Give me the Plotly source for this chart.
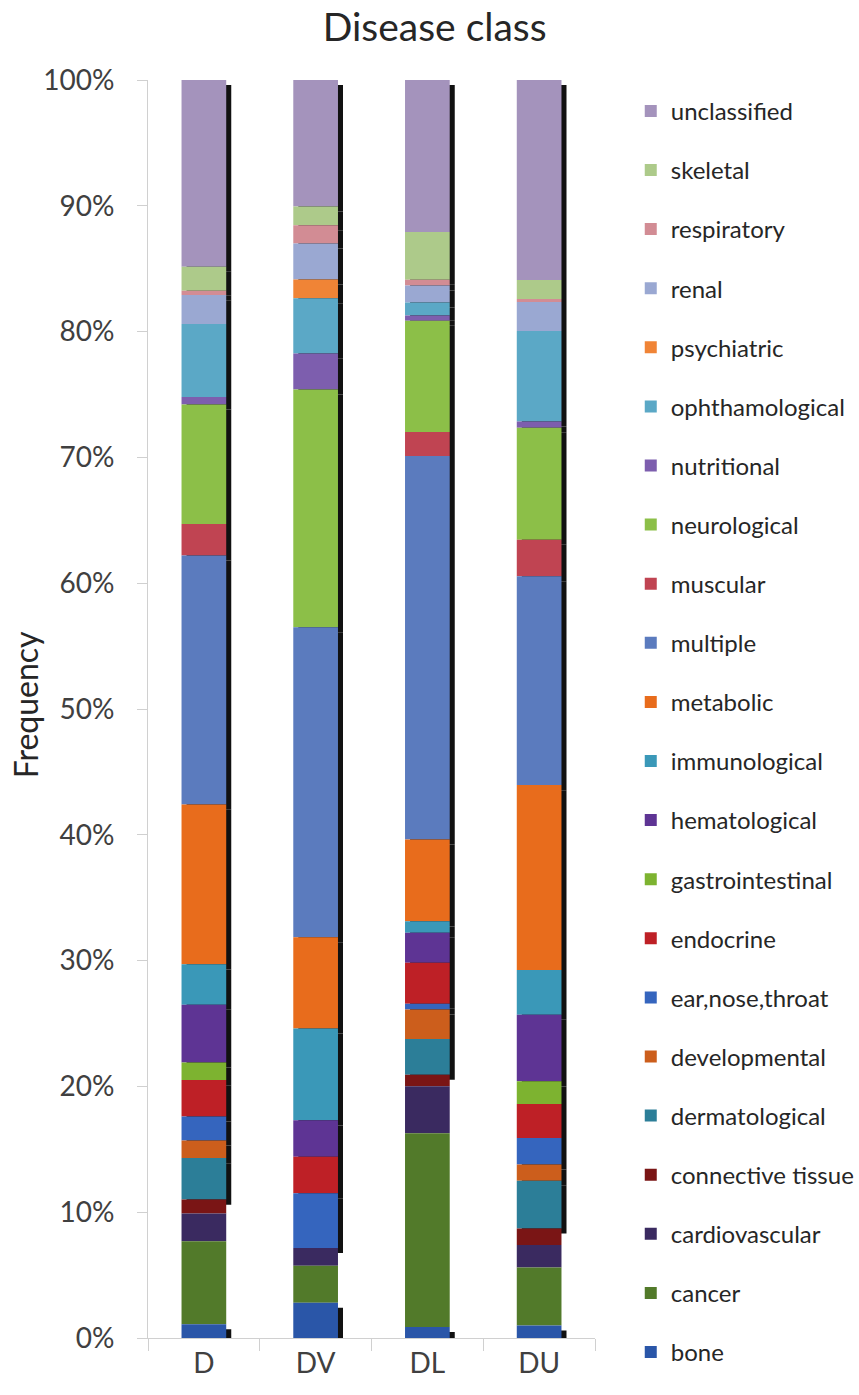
import plotly.graph_objects as go

categories = ["D", "DV", "DL", "DU"]

series_names = [
    "bone", "cancer", "cardiovascular", "connective tissue", "dermatological",
    "developmental", "ear,nose,throat", "endocrine", "gastrointestinal",
    "hematological", "immunological", "metabolic", "multiple", "muscular",
    "neurological", "nutritional", "ophthamological", "psychiatric", "renal",
    "respiratory", "skeletal", "unclassified",
]

# percentage of each disease class per group (D, DV, DL, DU)
bone              = [1.1, 2.8, 0.87, 1.0]
cancer            = [6.6, 2.95, 15.4, 4.6]
cardiovascular    = [2.2, 1.4, 3.75, 1.8]
connective_tissue = [1.1, 0.0, 0.9, 1.3]
dermatological    = [3.3, 0.0, 2.85, 3.8]
developmental     = [1.4, 0.0, 2.35, 1.3]
ear_nose_throat   = [1.9, 4.35, 0.45, 2.1]
endocrine         = [2.9, 2.9, 3.25, 2.7]
gastrointestinal  = [1.4, 0.0, 0.0, 1.8]
hematological     = [4.6, 2.9, 2.4, 5.3]
immunological     = [3.2, 7.3, 0.9, 3.55]
metabolic         = [12.7, 7.25, 6.5, 14.7]
multiple          = [19.8, 24.65, 30.5, 16.6]
muscular          = [2.5, 0.0, 1.9, 2.9]
neurological      = [9.5, 18.9, 8.85, 8.9]
nutritional       = [0.6, 2.85, 0.4, 0.5]
ophthamological   = [5.8, 4.4, 1.05, 7.2]
psychiatric       = [0.0, 1.5, 0.0, 0.0]
renal             = [2.3, 2.85, 1.35, 2.3]
respiratory       = [0.35, 1.45, 0.45, 0.25]
skeletal          = [1.9, 1.5, 3.8, 1.5]
unclassified      = [14.85, 10.05, 12.08, 15.9]

series_values = [
    bone, cancer, cardiovascular, connective_tissue, dermatological,
    developmental, ear_nose_throat, endocrine, gastrointestinal,
    hematological, immunological, metabolic, multiple, muscular,
    neurological, nutritional, ophthamological, psychiatric, renal,
    respiratory, skeletal, unclassified,
]

y_ticks = list(range(0, 101, 10))
y_tick_labels = [f"{t}%" for t in y_ticks]

colors = [
    "#2A56A8", "#527A2A", "#3A2A60", "#7A1515", "#2C7E98",
    "#CC5E1C", "#3565BE", "#BE2026", "#7DB330", "#5E3494",
    "#3A98B8", "#E86C1C", "#5B7BBE", "#C04452", "#8CBF48",
    "#7D5EAE", "#5BA8C6", "#F08436", "#9AA8D2", "#D28C94",
    "#ADCA8A", "#A493BC",
]

no_shadow = {"cancer", "cardiovascular", "connective tissue"}

FONT = "Lato, 'Open Sans', sans-serif"
BAR_W = 0.40
SH_DX = 0.045   # shadow offset in category units
SH_DY = 0.4     # shadow offset in percent units

# cumulative bases
bases = []
running = [0.0] * len(categories)
for vals in series_values:
    bases.append(list(running))
    running = [r + v for r, v in zip(running, vals)]

fig = go.Figure()

# shadows first (drawn behind)
for name, vals, base in zip(series_names, series_values, bases):
    if name in no_shadow:
        continue
    fig.add_trace(go.Bar(
        x=categories, y=vals, base=[b - SH_DY for b in base],
        width=BAR_W, offset=-BAR_W / 2 + SH_DX,
        marker=dict(color="#111111", line=dict(width=0)),
        showlegend=False, hoverinfo="skip",
    ))

# segments, added top-down so the legend lists unclassified first
items = list(zip(series_names, series_values, bases, colors))
for name, vals, base, col in reversed(items):
    fig.add_trace(go.Bar(
        x=categories, y=vals, base=base, name=name,
        width=BAR_W, offset=-BAR_W / 2,
        marker=dict(color=col, line=dict(width=0)),
        legendgroup=name,
    ))

fig.update_layout(
    width=859, height=1395,
    margin=dict(l=148, r=264, t=80, b=57, autoexpand=False),
    paper_bgcolor="white", plot_bgcolor="white",
    barmode="overlay",
    font=dict(family=FONT, color="#404040"),
    title=dict(text="Disease class", x=0.506, xanchor="center", y=0.9806, yanchor="middle",
               font=dict(size=39, color="#262626", family=FONT)),
    showlegend=True,
    legend=dict(
        x=1.08, xanchor="left", y=0.993, yanchor="top",
        traceorder="grouped", tracegroupgap=24.9, maxheight=1395,
        font=dict(size=24, color="#262626", family=FONT),
        bgcolor="rgba(0,0,0,0)", itemsizing="constant",
    ),
    xaxis=dict(
        type="category", range=[-0.5, 3.5], automargin=False,
        showline=True, linecolor="#D0D0D0", linewidth=1,
        ticks="outside", ticklen=12, tickcolor="#D0D0D0", tickson="boundaries",
        tickfont=dict(size=28, color="#404040"),
        showgrid=False, zeroline=False,
    ),
    yaxis=dict(
        range=[0, 100], tickmode="array", tickvals=y_ticks, ticktext=y_tick_labels,
        automargin=False,
        showline=True, linecolor="#D0D0D0", linewidth=1,
        ticks="outside", ticklen=10, tickcolor="#D0D0D0", ticklabelstandoff=17,
        tickfont=dict(size=28, color="#404040"),
        showgrid=False, zeroline=False,
    ),
    annotations=[dict(
        text="Frequency", xref="paper", yref="paper", x=-0.275, y=0.503,
        xanchor="center", yanchor="middle", textangle=-90, showarrow=False,
        font=dict(size=32, color="#262626", family=FONT),
    )],
)

fig.write_html("out.html")
